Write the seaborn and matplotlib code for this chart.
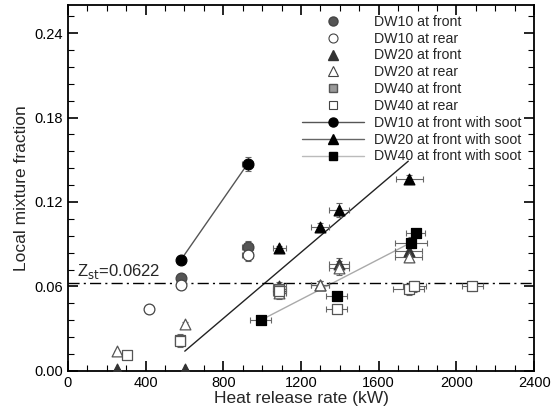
import matplotlib
matplotlib.use("Agg")
import matplotlib.pyplot as plt
import seaborn as sns
import numpy as np
from matplotlib.lines import Line2D
from matplotlib.ticker import MultipleLocator

# ---------------- data ----------------
dw10_front_x = [583, 925]
dw10_front_y = [0.066, 0.088]
dw10_front_xerr = [15, 28]
dw10_front_yerr = [0.003, 0.004]

dw10_rear_x = [417, 583, 925]
dw10_rear_y = [0.044, 0.061, 0.082]
dw10_rear_xerr = [12, 15, 28]
dw10_rear_yerr = [0.002, 0.003, 0.004]

dw20_front_x = [252, 602, 1088, 1297, 1395, 1755]
dw20_front_y = [0.001, 0.001, 0.060, 0.061, 0.076, 0.085]
dw20_front_xerr = [0, 0, 33, 45, 53, 69]
dw20_front_yerr = [0, 0, 0.003, 0.003, 0.004, 0.004]

dw20_rear_x = [252, 602, 1088, 1297, 1395, 1755]
dw20_rear_y = [0.014, 0.033, 0.055, 0.061, 0.073, 0.081]
dw20_rear_xerr = [0, 0, 33, 45, 53, 69]
dw20_rear_yerr = [0, 0.002, 0.004, 0.003, 0.005, 0.004]

dw40_front_x = [577, 1088]
dw40_front_y = [0.022, 0.058]
dw40_front_xerr = [15, 33]
dw40_front_yerr = [0.004, 0.004]

dw40_rear_x = [305, 577, 1088, 1383, 1755, 1783, 2080]
dw40_rear_y = [0.011, 0.021, 0.057, 0.044, 0.058, 0.060, 0.060]
dw40_rear_xerr = [0, 15, 33, 53, 80, 60, 54]
dw40_rear_yerr = [0, 0.004, 0.004, 0.003, 0.004, 0.004, 0.003]

dw10_soot_x = [583, 925]
dw10_soot_y = [0.079, 0.147]
dw10_soot_xerr = [15, 28]
dw10_soot_yerr = [0.002, 0.005]

dw20_soot_x = [1088, 1297, 1395, 1757]
dw20_soot_y = [0.087, 0.102, 0.114, 0.136]
dw20_soot_xerr = [33, 45, 53, 69]
dw20_soot_yerr = [0.002, 0.003, 0.005, 0.003]

dw40_soot_x = [993, 1383, 1764, 1790]
dw40_soot_y = [0.036, 0.053, 0.091, 0.098]
dw40_soot_xerr = [55, 53, 82, 50]
dw40_soot_yerr = [0.003, 0.003, 0.004, 0.003]

dw20_fit_x = [602, 1752]
dw20_fit_y = [0.014, 0.149]
dw40_fit_x = [993, 1764]
dw40_fit_y = [0.036, 0.091]

z_st = 0.0622
x_ticks = [0, 400, 800, 1200, 1600, 2000, 2400]
y_ticks = [0.00, 0.06, 0.12, 0.18, 0.24]

# ---------------- style ----------------
sns.set_style("ticks")
plt.rcParams['font.family'] = ['Liberation Sans', 'DejaVu Sans']

fig = plt.figure(figsize=(5.6, 4.08), dpi=100)
ax = fig.add_axes([0.121, 0.091, 0.833, 0.897])

ecol = '#666666'
def eb(x, y, xe, ye):
    ax.errorbar(x, y, xerr=xe, yerr=ye, fmt='none', ecolor=ecol,
                elinewidth=0.8, capsize=2.5, capthick=0.8, zorder=2)

# fit / connecting lines
c10, c20, c40 = '#555555', '#222222', '#aaaaaa'
sns.lineplot(x=dw10_soot_x, y=dw10_soot_y, color=c10, lw=1.0, ax=ax, zorder=1)
sns.lineplot(x=dw20_fit_x, y=dw20_fit_y, color=c20, lw=1.0, ax=ax, zorder=1)
sns.lineplot(x=dw40_fit_x, y=dw40_fit_y, color=c40, lw=1.0, ax=ax, zorder=1)

# z_st line
ax.axhline(z_st, color='black', lw=1.0, ls=(0, (8, 3, 1.5, 3)), zorder=1)
ax.text(45, z_st + 0.0015, r'Z$_{\rm st}$=0.0622', fontsize=12, va='bottom', ha='left')

series = [
    (dw10_front_x, dw10_front_y, dw10_front_xerr, dw10_front_yerr, 'o', '#555555', '#444444', 60),
    (dw10_rear_x, dw10_rear_y, dw10_rear_xerr, dw10_rear_yerr, 'o', 'white', '#444444', 60),
    (dw20_front_x, dw20_front_y, dw20_front_xerr, dw20_front_yerr, '^', '#333333', '#333333', 60),
    (dw20_rear_x, dw20_rear_y, dw20_rear_xerr, dw20_rear_yerr, '^', 'white', '#555555', 60),
    (dw40_front_x, dw40_front_y, dw40_front_xerr, dw40_front_yerr, 's', '#999999', '#555555', 50),
    (dw40_rear_x, dw40_rear_y, dw40_rear_xerr, dw40_rear_yerr, 's', 'white', '#555555', 50),
    (dw10_soot_x, dw10_soot_y, dw10_soot_xerr, dw10_soot_yerr, 'o', 'black', 'black', 60),
    (dw20_soot_x, dw20_soot_y, dw20_soot_xerr, dw20_soot_yerr, '^', 'black', 'black', 60),
    (dw40_soot_x, dw40_soot_y, dw40_soot_xerr, dw40_soot_yerr, 's', 'black', 'black', 50),
]
for i, (x, y, xe, ye, m, fc, ec, s) in enumerate(series):
    eb(x, y, xe, ye)
    sns.scatterplot(x=x, y=y, marker=m, s=s, color=fc, edgecolor=ec,
                    linewidth=0.9, ax=ax, zorder=3 + i)

# axes
ax.set_xlim(0, 2400)
ax.set_ylim(0, 0.26)
ax.set_xticks(x_ticks)
ax.set_yticks(y_ticks)
ax.set_yticklabels([f'{v:.2f}' for v in y_ticks])
ax.xaxis.set_minor_locator(MultipleLocator(100))
ax.yaxis.set_minor_locator(MultipleLocator(0.012))
ax.tick_params(which='both', direction='in', top=True, right=True, labelsize=10.5, colors='black')
ax.tick_params(which='major', length=7, width=1.2)
ax.tick_params(which='minor', length=4, width=0.8)
for sp in ax.spines.values():
    sp.set_linewidth(1.3)
    sp.set_color('black')
ax.set_xlabel('Heat release rate (kW)', fontsize=12.5, labelpad=1)
ax.set_ylabel('Local mixture fraction', fontsize=12.5, labelpad=4)

# legend
handles = [
    Line2D([], [], ls='none', marker='o', ms=6.5, mfc='#555555', mec='#444444'),
    Line2D([], [], ls='none', marker='o', ms=6.5, mfc='white', mec='#444444', mew=0.8),
    Line2D([], [], ls='none', marker='^', ms=6.5, mfc='#333333', mec='#333333'),
    Line2D([], [], ls='none', marker='^', ms=6.5, mfc='white', mec='#444444', mew=0.8),
    Line2D([], [], ls='none', marker='s', ms=5.5, mfc='#999999', mec='#555555'),
    Line2D([], [], ls='none', marker='s', ms=5.5, mfc='white', mec='#444444', mew=0.8),
    Line2D([], [], color='#555555', lw=1.0, marker='o', ms=6.5, mfc='black', mec='black'),
    Line2D([], [], color='#666666', lw=1.0, marker='^', ms=6.5, mfc='black', mec='black'),
    Line2D([], [], color='#bbbbbb', lw=1.0, marker='s', ms=5.5, mfc='black', mec='black'),
]
labels = ['DW10 at front', 'DW10 at rear', 'DW20 at front', 'DW20 at rear',
          'DW40 at front', 'DW40 at rear', 'DW10 at front with soot',
          'DW20 at front with soot', 'DW40 at front with soot']
ax.legend(handles, labels, loc='upper left', bbox_to_anchor=(0.48, 1.0),
          frameon=False, fontsize=10.2, handlelength=4.4, handletextpad=0.7,
          labelspacing=0.2, borderaxespad=0.3)

fig.savefig('out.png', dpi=100)
